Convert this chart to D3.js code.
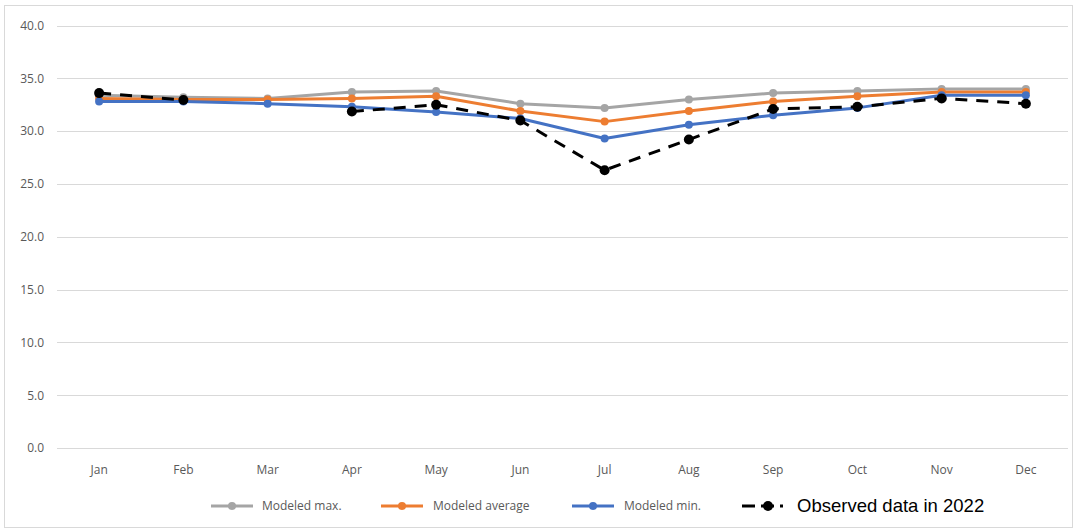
<!DOCTYPE html>
<html>
<head>
<meta charset="utf-8">
<script src="https://cdn.jsdelivr.net/npm/d3@7"></script>
<style>
  html, body { margin: 0; padding: 0; background: #fff; }
  svg { display: block; }
</style>
</head>
<body>
<svg id="chart" width="1074" height="530"></svg>
<script>
// Monthly categories and series values
const months = ["Jan","Feb","Mar","Apr","May","Jun","Jul","Aug","Sep","Oct","Nov","Dec"];
const modeledMax = [33.4, 33.2, 33.1, 33.7, 33.8, 32.6, 32.2, 33.0, 33.6, 33.8, 34.0, 34.0];
const modeledAvg = [33.1, 33.0, 33.0, 33.1, 33.3, 31.9, 30.9, 31.9, 32.8, 33.3, 33.7, 33.7];
const modeledMin = [32.8, 32.8, 32.6, 32.3, 31.8, 31.2, 29.3, 30.6, 31.5, 32.2, 33.4, 33.4];
const observed   = [33.6, 32.95, null, 31.85, 32.5, 31.0, 26.3, 29.2, 32.1, 32.3, 33.1, 32.6];
const yTicks = [0, 5, 10, 15, 20, 25, 30, 35, 40];
const legendLabels = ["Modeled max.", "Modeled average", "Modeled min.", "Observed data in 2022"];

const svg = d3.select("#chart");
const W = 1074, H = 530;

// chart frame
svg.append("rect")
  .attr("x", 4.5).attr("y", 5.5)
  .attr("width", W - 6).attr("height", H - 8)
  .attr("fill", "#fff").attr("stroke", "#d9d9d9").attr("stroke-width", 1);

const plot = { left: 57, right: 1068, top: 25.5, bottom: 448 };

const x = d3.scaleBand().domain(months).range([plot.left, plot.right]);
const y = d3.scaleLinear().domain([0, 40]).range([plot.bottom, plot.top]);
const cx = m => x(m) + x.bandwidth() / 2;

// gridlines
svg.append("g")
  .selectAll("line")
  .data(yTicks)
  .join("line")
  .attr("x1", plot.left).attr("x2", plot.right)
  .attr("y1", d => Math.round(y(d)) + 0.5).attr("y2", d => Math.round(y(d)) + 0.5)
  .attr("stroke", "#d9d9d9").attr("stroke-width", 1);

// y axis labels
const yAxis = d3.axisLeft(y).tickValues(yTicks).tickFormat(d3.format(".1f")).tickSize(0).tickPadding(0);
const yg = svg.append("g").attr("transform", `translate(${plot.left - 13},0)`).call(yAxis);
yg.select(".domain").remove();
yg.selectAll("text")
  .attr("fill", "#595959")
  .style("font-family", "'Open Sans', 'Noto Sans', sans-serif")
  .style("font-size", "12px");

// x axis labels
const xAxis = d3.axisBottom(x).tickSize(0).tickPadding(0);
const xg = svg.append("g").attr("transform", `translate(0,${plot.bottom + 17})`).call(xAxis);
xg.select(".domain").remove();
xg.selectAll("text")
  .attr("fill", "#595959")
  .style("font-family", "'Open Sans', 'Noto Sans', sans-serif")
  .style("font-size", "12px");

const series = [
  { name: legendLabels[0], values: modeledMax, color: "#a5a5a5", dash: null, r: 4 },
  { name: legendLabels[1], values: modeledAvg, color: "#ed7d31", dash: null, r: 4 },
  { name: legendLabels[2], values: modeledMin, color: "#4472c4", dash: null, r: 4 },
  { name: legendLabels[3], values: observed,   color: "#000000", dash: "12,9", r: 5 }
];

const line = d3.line()
  .defined(d => d.v != null)
  .x(d => cx(d.m))
  .y(d => y(d.v));

series.forEach(s => {
  const pts = months.map((m, i) => ({ m, v: s.values[i] }));
  const g = svg.append("g");
  g.append("path")
    .datum(pts)
    .attr("d", line)
    .attr("fill", "none")
    .attr("stroke", s.color)
    .attr("stroke-width", 3)
    .attr("stroke-dasharray", s.dash)
    .attr("stroke-linejoin", "round");
  g.selectAll("circle")
    .data(pts.filter(d => d.v != null))
    .join("circle")
    .attr("cx", d => cx(d.m))
    .attr("cy", d => y(d.v))
    .attr("r", s.r)
    .attr("fill", s.color);
});

// legend
const legendY = 506;
const legendItems = [
  { x: 211, len: 42, mx: 232, tx: 262, size: 12, font: "'Open Sans', 'Noto Sans', sans-serif", fill: "#595959", dash: null },
  { x: 381, len: 42, mx: 402, tx: 433, size: 12, font: "'Open Sans', 'Noto Sans', sans-serif", fill: "#595959", dash: null },
  { x: 572, len: 42, mx: 593, tx: 624, size: 12, font: "'Open Sans', 'Noto Sans', sans-serif", fill: "#595959", dash: null },
  { x: 742, len: 41, mx: 768, tx: 797, size: 18.5, font: "'Liberation Sans', Arial, sans-serif", fill: "#000000", dash: "13,6" }
];
const lg = svg.append("g");
series.forEach((s, i) => {
  const it = legendItems[i];
  lg.append("line")
    .attr("x1", it.x).attr("x2", it.x + it.len)
    .attr("y1", legendY).attr("y2", legendY)
    .attr("stroke", s.color).attr("stroke-width", 3)
    .attr("stroke-dasharray", it.dash);
  lg.append("circle")
    .attr("cx", it.mx)
    .attr("cy", legendY).attr("r", s.r).attr("fill", s.color);
  lg.append("text")
    .attr("x", it.tx).attr("y", legendY)
    .attr("dy", "0.35em")
    .attr("fill", it.fill)
    .style("font-family", it.font)
    .style("font-size", it.size + "px")
    .text(s.name);
});
</script>
</body>
</html>
